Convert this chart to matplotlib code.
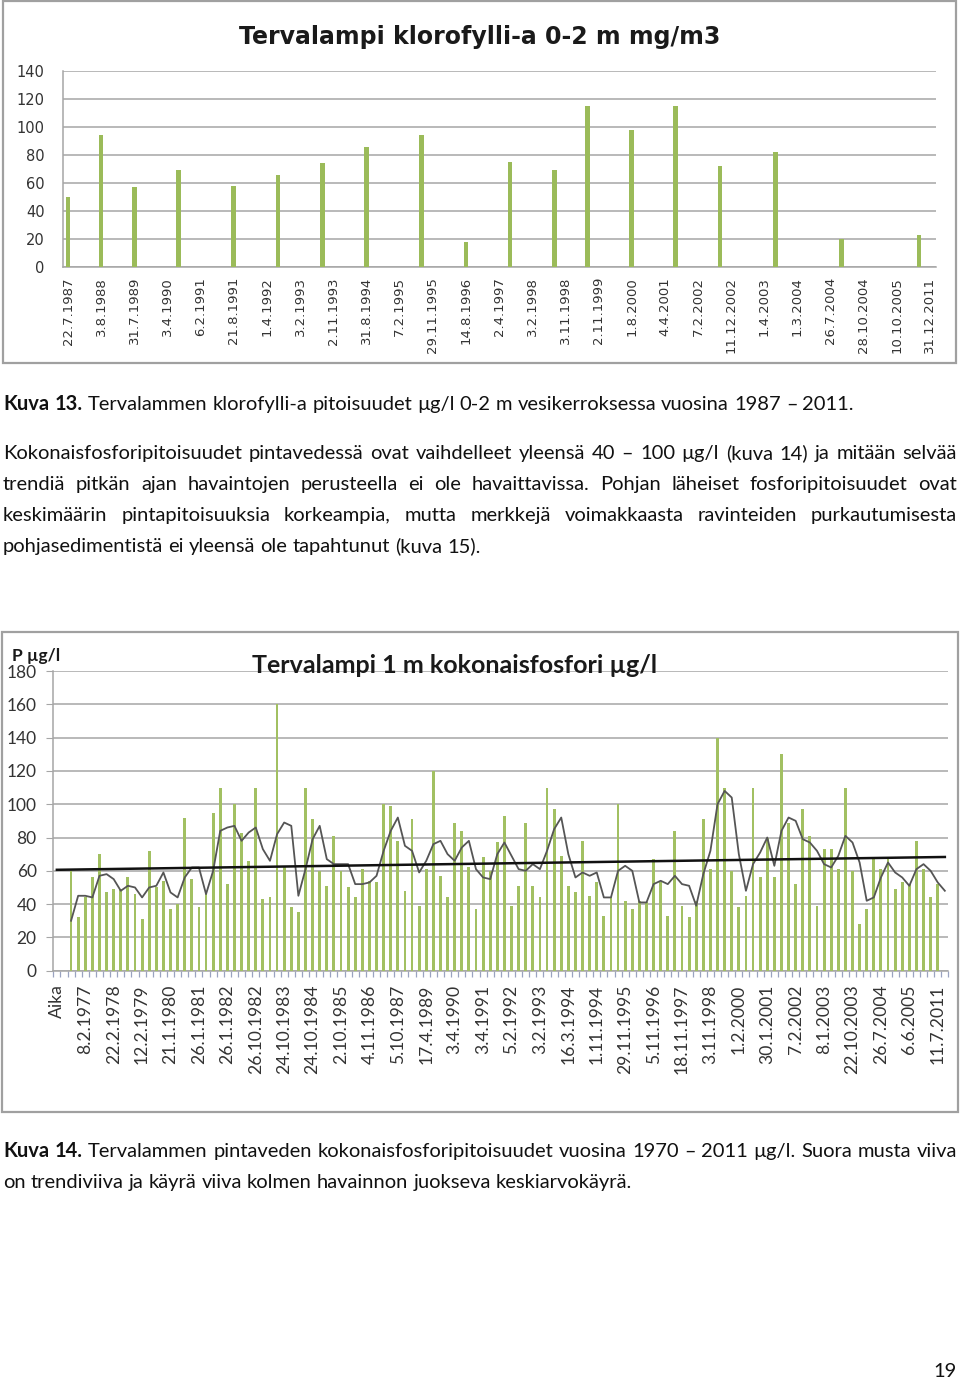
import matplotlib
matplotlib.use('Agg')
import matplotlib.pyplot as plt
import numpy as np
from matplotlib.patches import Rectangle
import matplotlib.ticker as mticker

N = None

# ---------------- Chart 1 data ----------------
chl_title = "Tervalampi klorofylli-a 0-2 m mg/m3"
chl_labels = ["22.7.1987", "3.8.1988", "31.7.1989", "3.4.1990", "6.2.1991", "21.8.1991",
              "1.4.1992", "3.2.1993", "2.11.1993", "31.8.1994", "7.2.1995", "29.11.1995",
              "14.8.1996", "2.4.1997", "3.2.1998", "3.11.1998", "2.11.1999", "1.8.2000",
              "4.4.2001", "7.2.2002", "11.12.2002", "1.4.2003", "1.3.2004", "26.7.2004",
              "28.10.2004", "10.10.2005", "31.12.2011"]
# one entry per sampling row of the sheet (labels shown on every third row)
chl_values = [50, N, N, 94, N, N, 57, N, N, N,
              69, N, N, N, N, 58, N, N, N, 66,
              N, N, N, 74, N, N, N, 86, N, N,
              N, N, 94, N, N, N, 18, N, N, N,
              75, N, N, N, 69, N, N, 115, N, N,
              N, 98, N, N, N, 115, N, N, N, 72,
              N, N, N, N, 82, N, N, N, N, N,
              20, N, N, N, N, N, N, 23, N]
chl_yticks = [0, 20, 40, 60, 80, 100, 120, 140]

# ---------------- Chart 2 data ----------------
p_title = "Tervalampi 1 m kokonaisfosfori µg/l"
p_unit = "P µg/l"
p_labels = ["Aika", "8.2.1977", "22.2.1978", "12.2.1979", "21.1.1980", "26.1.1981",
            "26.1.1982", "26.10.1982", "24.10.1983", "24.10.1984", "2.10.1985", "4.11.1986",
            "5.10.1987", "17.4.1989", "3.4.1990", "3.4.1991", "5.2.1992", "3.2.1993",
            "16.3.1994", "1.11.1994", "29.11.1995", "5.11.1996", "18.11.1997", "3.11.1998",
            "1.2.2000", "30.1.2001", "7.2.2002", "8.1.2003", "22.10.2003", "26.7.2004",
            "6.6.2005", "11.7.2011"]
p_values = [N, N, 60, 32, 44, 56, 70, 47, 49, 49,
            56, 46, 31, 72, 50, 54, 37, 40, 92, 55,
            38, 46, 95, 110, 52, 100, 83, 66, 110, 43,
            44, 160, 62, 38, 35, 110, 91, 60, 51, 81,
            60, 50, 44, 61, 54, 53, 100, 99, 78, 48,
            91, 39, 61, 120, 57, 44, 89, 84, 62, 37,
            68, 60, 77, 93, 39, 51, 89, 51, 44, 110,
            97, 69, 51, 47, 78, 45, 53, 33, 44, 100,
            42, 37, 42, 41, 67, 53, 33, 84, 39, 32,
            42, 91, 61, 140, 110, 60, 38, 45, 110, 56,
            80, 56, 130, 89, 52, 97, 81, 39, 73, 73,
            61, 110, 60, 28, 37, 67, 61, 67, 49, 53,
            52, 78, 61, 44, 52, N]
p_movavg = [N, N, 30, 45, 45, 44, 57, 58, 55, 48,
            51, 50, 44, 50, 51, 59, 47, 44, 56, 62,
            62, 46, 60, 84, 86, 87, 78, 83, 86, 73,
            66, 82, 89, 87, 45, 61, 79, 87, 67, 64,
            64, 64, 52, 52, 53, 57, 72, 84, 92, 75,
            72, 59, 66, 76, 78, 70, 66, 74, 78, 61,
            56, 55, 70, 77, 69, 61, 60, 64, 61, 72,
            85, 92, 70, 56, 59, 57, 59, 44, 44, 60,
            63, 60, 41, 41, 52, 54, 52, 57, 52, 51,
            39, 58, 72, 100, 108, 104, 70, 48, 64, 71,
            80, 63, 84, 92, 90, 79, 77, 72, 64, 62,
            69, 81, 77, 65, 42, 44, 56, 65, 59, 56,
            51, 61, 64, 60, 53, 48]
p_trend = [60.6, 68.3]  # linear trend line: value at first and last category
p_yticks = [0, 20, 40, 60, 80, 100, 120, 140, 160, 180]

# ---------------- Page text ----------------
caption13 = ("Kuva 13.", "Tervalammen klorofylli-a pitoisuudet µg/l 0-2 m vesikerroksessa vuosina 1987 – 2011.")
paragraph = [
    "Kokonaisfosforipitoisuudet pintavedessä ovat vaihdelleet yleensä 40 – 100 µg/l (kuva 14) ja mitään selvää",
    "trendiä pitkän ajan havaintojen perusteella ei ole havaittavissa. Pohjan läheiset fosforipitoisuudet ovat",
    "keskimäärin pintapitoisuuksia korkeampia, mutta merkkejä voimakkaasta ravinteiden purkautumisesta",
    "pohjasedimentistä ei yleensä ole tapahtunut (kuva 15).",
]
caption14 = ("Kuva 14.", [
    "Tervalammen pintaveden kokonaisfosforipitoisuudet vuosina 1970 – 2011 µg/l. Suora musta viiva",
    "on trendiviiva ja käyrä viiva kolmen havainnon juokseva keskiarvokäyrä.",
])
page_number = "19"

# ---------------- Figure ----------------
W, H = 960, 1379
fig = plt.figure(figsize=(W / 100, H / 100), dpi=100)
fig.patch.set_facecolor('white')

BAR = '#9BBB59'
GRID = '#A6A6A6'
BODY = ['Lato', 'DejaVu Sans']


def fy(y):
    return 1 - y / H


def box(x0, y0, x1, y1):
    fig.add_artist(Rectangle((x0 / W, fy(y1)), (x1 - x0) / W, (y1 - y0) / H,
                             transform=fig.transFigure, fill=False,
                             edgecolor='#A0A0A0', lw=1.6))


# ---- Chart 1 ----
box(3, 1, 956, 363)
ax1 = fig.add_axes([62.5 / W, fy(267.3), 873 / W, 196.6 / H])
x1 = np.arange(len(chl_values))
v1 = np.array([np.nan if v is None else v for v in chl_values], float)
ax1.bar(x1, v1, width=0.42, color=BAR, zorder=3)
ax1.set_xlim(-0.5, len(chl_values) - 0.5)
ax1.set_ylim(0, 140)
ax1.set_yticks(chl_yticks)
ax1.yaxis.grid(True, color=GRID, lw=1.1, zorder=0)
ax1.set_axisbelow(True)
step1 = (len(chl_values) - 1) // (len(chl_labels) - 1)
ax1.set_xticks(np.arange(len(chl_labels)) * step1)
ax1.set_xticklabels(chl_labels, rotation=90, fontsize=9.5, color='#333333',
                    family=['DejaVu Sans'])
ax1.tick_params(axis='x', length=0, pad=7)
ax1.tick_params(axis='y', length=0, pad=13, labelsize=10.5, labelcolor='#333333')
for s in ['top', 'right']:
    ax1.spines[s].set_visible(False)
for s in ['left', 'bottom']:
    ax1.spines[s].set_color(GRID)
    ax1.spines[s].set_linewidth(1.1)
fig.text(480 / W, fy(44), chl_title, ha='center', va='baseline',
         fontsize=17, fontweight='bold', color='#1a1a1a', family=['DejaVu Sans'])

# ---- Chart 2 ----
box(2, 632, 958, 1112)
ax2 = fig.add_axes([53.3 / W, fy(970.7), 895.1 / W, 299.7 / H])
x2 = np.arange(len(p_values))
v2 = np.array([np.nan if v is None else v for v in p_values], float)
m2 = np.array([np.nan if v is None else v for v in p_movavg], float)
ax2.bar(x2, v2, width=0.4, color='#A2C062', zorder=3)
ax2.plot(x2, m2, color='#555555', lw=1.3, zorder=4)
ax2.plot([x2[0], x2[-1]], p_trend, color='#111111', lw=1.8, zorder=5)
ax2.set_xlim(-0.5, len(p_values) - 0.5)
ax2.set_ylim(0, 180)
ax2.set_yticks(p_yticks)
ax2.yaxis.grid(True, color=GRID, lw=1.1, zorder=0)
ax2.set_axisbelow(True)
step2 = 4
ax2.set_xticks(np.arange(len(p_labels)) * step2)
ax2.set_xticklabels(p_labels, rotation=90, fontsize=12.6, color='#333333', family=BODY)
ax2.xaxis.set_minor_locator(mticker.FixedLocator(np.arange(len(p_values) + 1) - 0.5))
ax2.tick_params(axis='x', which='major', length=0, pad=10)
ax2.tick_params(axis='x', which='minor', length=4, color='#9AA3C0', width=0.9)
ax2.tick_params(axis='y', length=5, color=GRID, pad=7, labelsize=12.5, labelcolor='#333333')
for lab in ax2.get_yticklabels():
    lab.set_family(BODY)
for s in ['top', 'right']:
    ax2.spines[s].set_visible(False)
for s in ['left', 'bottom']:
    ax2.spines[s].set_color(GRID)
    ax2.spines[s].set_linewidth(1.1)
fig.text(455 / W, fy(673), p_title, ha='center', va='baseline',
         fontsize=18, fontweight='bold', color='#1a1a1a', family=BODY)
fig.text(12 / W, fy(661), p_unit, ha='left', va='baseline',
         fontsize=12.5, fontweight='bold', color='#1a1a1a', family=BODY)

# ---------------- Justified page text ----------------
renderer = fig.canvas.get_renderer()
FS = 14.5


def measure(txt, weight):
    t = fig.text(0, 0, txt, fontsize=FS, fontweight=weight, family=BODY)
    w = t.get_window_extent(renderer).width
    t.remove()
    return w


SPACE = measure("a a", 'normal') - measure("aa", 'normal')


def place_line(words, baseline, justify, x0=3, x1=957):
    widths = [measure(t, wt) for t, wt in words]
    total = sum(widths)
    if justify and len(words) > 1:
        gap = (x1 - x0 - total) / (len(words) - 1)
    else:
        gap = SPACE
    x = x0
    for (t, wt), w in zip(words, widths):
        fig.text(x / W, fy(baseline), t, fontsize=FS, fontweight=wt, family=BODY,
                 ha='left', va='baseline', color='#111111')
        x += w + gap


def words_of(text, weight='normal'):
    return [(w, weight) for w in text.split()]


# caption 13
place_line(words_of(caption13[0], 'bold') + words_of(caption13[1]), 410, False)
# paragraph
for i, line in enumerate(paragraph):
    place_line(words_of(line), 459 + 31 * i, i < len(paragraph) - 1)
# caption 14
place_line(words_of(caption14[0], 'bold') + words_of(caption14[1][0]), 1157, True)
place_line(words_of(caption14[1][1]), 1188, False)
# page number
fig.text(957 / W, fy(1377), page_number, ha='right', va='baseline', fontsize=FS,
         family=BODY, color='#111111')

fig.savefig('out.png', dpi=100, facecolor='white')
